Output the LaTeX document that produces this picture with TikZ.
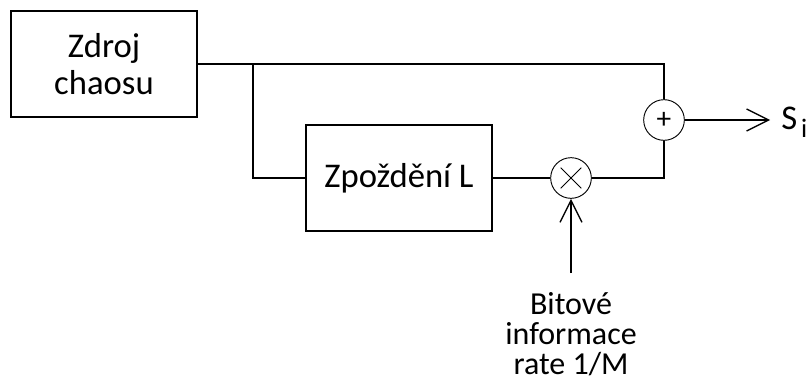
\documentclass[tikz,border=0pt]{standalone}
\usepackage{fontspec}
\setmainfont{Carlito}
\usetikzlibrary{arrows.meta}
\begin{document}
\begin{tikzpicture}[
    x=0.75pt, y=-0.75pt,
    blok/.style={draw=black, line width=1pt, fill=white, minimum width=139.5pt, minimum height=79.5pt, inner sep=0pt, align=center, font=\fontsize{26}{28}\selectfont},
    linka/.style={line width=1pt, draw=black},
    kruh/.style={draw=black, line width=0.7pt, circle, minimum size=30.5pt, inner sep=0pt},
    sipka/.style={linka, -{Straight Barb[length=16.5pt, width=16.5pt, line width=1pt]}}
]
    \useasboundingbox (0,0) rectangle (812,385);

    % --- BLOKY ---
    \node[blok] (zdroj) at (104, 64) {Zdroj\\chaosu};
    \node[blok] (zpozdeni) at (399, 178) {Zpoždění L};

    % --- SOUCET A NASOBENI ---
    \node[kruh, font=\fontsize{22}{22}\selectfont] (soucet) at (664, 120) {+};
    \node[kruh, path picture={
        \draw[line width=0.7pt] ([shift={(7.5pt,7.5pt)}]path picture bounding box.south west) -- ([shift={(-7.5pt,-7.5pt)}]path picture bounding box.north east);
        \draw[line width=0.7pt] ([shift={(7.5pt,-7.5pt)}]path picture bounding box.north west) -- ([shift={(-7.5pt,7.5pt)}]path picture bounding box.south east);
    }] (nasob) at (571, 178) {};

    % --- VETVENI ---
    \coordinate (rozb) at (253, 64);
    \draw[linka] (zdroj.east) -| (soucet.north);
    \draw[linka] (rozb) |- (zpozdeni.west);
    \draw[linka] (zpozdeni) -- (nasob);
    \draw[linka] (nasob) -| (soucet.south);

    % --- VSTUP BITU ---
    \coordinate (vstup) at (571, 273);
    \draw[sipka] (vstup) -- (nasob.south);
    \node[anchor=north, inner sep=0pt, align=center, font=\fontsize{24}{22.5}\selectfont] (bity) at (571, 292) {Bitové\\informace\\rate 1/M};

    % --- VYSTUP ---
    \coordinate (vystup) at (770, 120);
    \draw[sipka] (soucet) -- (vystup);
    \node[anchor=base west, inner sep=0pt, font=\fontsize{26}{28}\selectfont] (si) at (781, 129) {S\kern3pt\raisebox{-6pt}{\fontsize{20}{20}\selectfont i}};
\end{tikzpicture}
\end{document}
